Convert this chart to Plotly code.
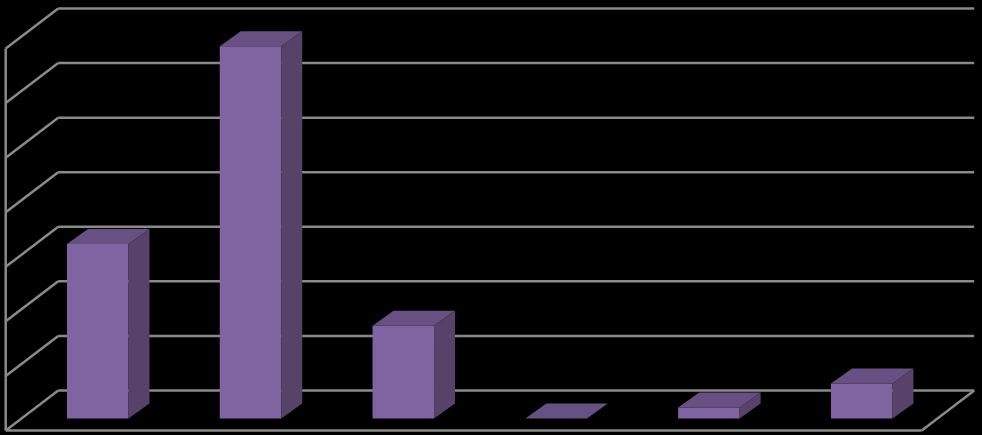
import plotly.graph_objects as go

# Data
categories = [0, 1, 2, 3, 4, 5]
values = [160, 341, 85, 0, 10, 32]
grid_ticks = [0, 50, 100, 150, 200, 250, 300, 350]

# Oblique projection constants, in axis units
UNITS_PER_PX_Y = 50 / 54.57
UNITS_PER_PX_X = 1 / 152.8
BAR_WIDTH = 61.5 * UNITS_PER_PX_X
BAR_DX = 21 * UNITS_PER_PX_X
BAR_DY = 15 * UNITS_PER_PX_Y
BAR_BASE = -28 * UNITS_PER_PX_Y
WALL_LEFT = -92 * UNITS_PER_PX_X
WALL_BACK = -39.5 * UNITS_PER_PX_X
WALL_RIGHT = 876.5 * UNITS_PER_PX_X
FLOOR_DX = 52.5 * UNITS_PER_PX_X
FLOOR_DY = 40 * UNITS_PER_PX_Y

FRONT = "#8064A2"
TOP = "#675082"
SIDE = "#574269"
GRID = "#8A8A8A"

fig = go.Figure()

fig.add_trace(go.Bar(
    x=categories, y=values, base=[BAR_BASE] * len(values), width=BAR_WIDTH,
    marker=dict(color=FRONT, line=dict(width=0)), hoverinfo="skip", showlegend=False,
))

for c, v in zip(categories, values):
    left = c - BAR_WIDTH / 2
    right = c + BAR_WIDTH / 2
    top = BAR_BASE + v
    fig.add_trace(go.Scatter(
        x=[left, right, right + BAR_DX, left + BAR_DX, left],
        y=[top, top, top + BAR_DY, top + BAR_DY, top],
        mode="lines", fill="toself", fillcolor=TOP, line=dict(width=0),
        hoverinfo="skip", showlegend=False,
    ))
    if v > 0:
        fig.add_trace(go.Scatter(
            x=[right, right + BAR_DX, right + BAR_DX, right, right],
            y=[BAR_BASE, BAR_BASE + BAR_DY, top + BAR_DY, top, BAR_BASE],
            mode="lines", fill="toself", fillcolor=SIDE, line=dict(width=0),
            hoverinfo="skip", showlegend=False,
        ))

shapes = []
def seg(x0, y0, x1, y1):
    shapes.append(dict(type="line", xref="x", yref="y", x0=x0, y0=y0, x1=x1, y1=y1,
                       layer="below", line=dict(color=GRID, width=2.5)))

for t in grid_ticks:
    seg(WALL_LEFT, t - FLOOR_DY, WALL_BACK, t)
    seg(WALL_BACK, t, WALL_RIGHT, t)
seg(WALL_LEFT, -FLOOR_DY, WALL_LEFT, grid_ticks[-1] - FLOOR_DY)
seg(WALL_LEFT, -FLOOR_DY, WALL_RIGHT - FLOOR_DX, -FLOOR_DY)
seg(WALL_RIGHT - FLOOR_DX, -FLOOR_DY, WALL_RIGHT, 0)

fig.update_layout(
    width=982, height=435,
    margin=dict(l=0, r=0, t=0, b=0),
    paper_bgcolor="#000000", plot_bgcolor="#000000",
    showlegend=False, shapes=shapes,
    xaxis=dict(visible=False, range=[-97.7 * UNITS_PER_PX_X, 884.3 * UNITS_PER_PX_X]),
    yaxis=dict(visible=False, range=[-44.5 * UNITS_PER_PX_Y, 390.5 * UNITS_PER_PX_Y]),
)

fig.write_html(
    "out.html",
    config=dict(displayModeBar=False),
    post_script="document.body.style.margin='0';document.body.style.background='#000';",
)
